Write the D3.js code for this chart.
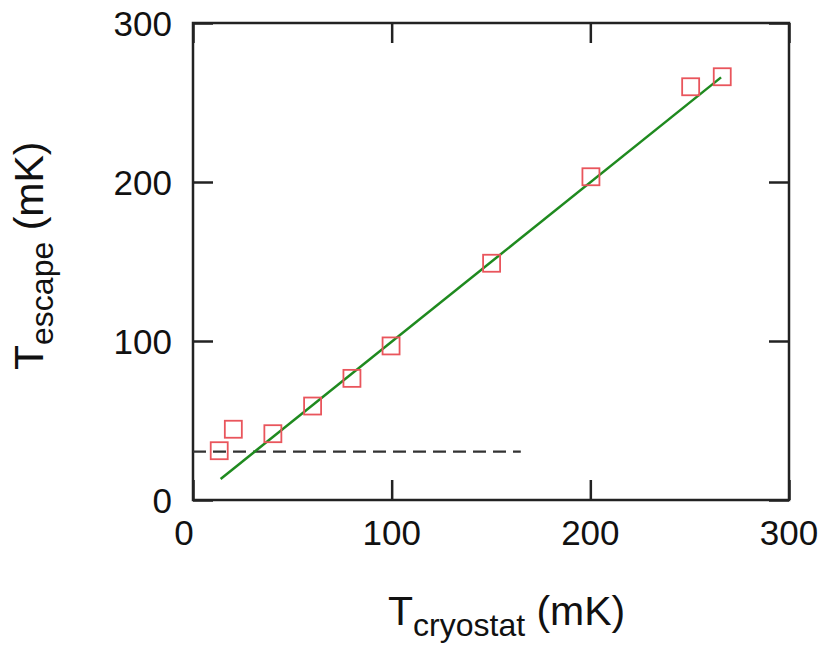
<!DOCTYPE html>
<html>
<head>
<meta charset="utf-8">
<script src="https://cdn.jsdelivr.net/npm/d3@7"></script>
<style>
  body { margin: 0; background: #fff; }
  svg { display: block; font-family: "Liberation Sans", Arial, sans-serif; }
</style>
</head>
<body>
<div id="viz"></div>
<script>
// measured points
const cryostat = [13.2, 20.3, 40.2, 60.2, 80.0, 99.7, 150.3, 200.3, 250.5, 266.4]
const escape = [31.0, 44.5, 41.7, 59.1, 76.5, 96.9, 148.9, 203.3, 259.9, 266.2]

// linear fit, drawn between its two ends
const fitX = [13.9, 265.8]
const fitY = [13.2, 265.8]

// dashed floor line
const floorX = [0, 165]
const floorY = [30.4, 30.4]

const xTicks = [0, 100, 200, 300]
const yTicks = [0, 100, 200, 300]

const W = 823, H = 648
const mLeft = 193, mRight = 789, mTop = 23, mBottom = 500
const tickLen = 20

const svg = d3.select("#viz").append("svg").attr("width", W).attr("height", H)

const x = d3.scaleLinear().domain([0, 300]).range([mLeft, mRight])
const y = d3.scaleLinear().domain([0, 300]).range([mBottom, mTop])

// ticks, pointing inward on all four sides
const tickStroke = "#222"
svg.append("g")
  .attr("transform", `translate(0,${mBottom})`)
  .call(d3.axisBottom(x).tickValues(xTicks).tickSize(-tickLen).tickFormat(""))
svg.append("g")
  .attr("transform", `translate(0,${mTop})`)
  .call(d3.axisTop(x).tickValues(xTicks).tickSize(-tickLen).tickFormat(""))
svg.append("g")
  .attr("transform", `translate(${mLeft},0)`)
  .call(d3.axisLeft(y).tickValues(yTicks).tickSize(-tickLen).tickFormat(""))
svg.append("g")
  .attr("transform", `translate(${mRight},0)`)
  .call(d3.axisRight(y).tickValues(yTicks).tickSize(-tickLen).tickFormat(""))
svg.selectAll(".domain").remove()
svg.selectAll(".tick line").attr("stroke", tickStroke).attr("stroke-width", 2.5)

// frame
svg.append("rect")
  .attr("x", mLeft).attr("y", mTop)
  .attr("width", mRight - mLeft).attr("height", mBottom - mTop)
  .attr("fill", "none")
  .attr("stroke", tickStroke)
  .attr("stroke-width", 2.5)

// tick labels
svg.selectAll(".xlab")
  .data(xTicks)
  .enter()
  .append("text")
  .attr("class", "xlab")
  .attr("x", d => x(d) - (d == 0 ? 9 : 0))
  .attr("y", mBottom + 45)
  .attr("text-anchor", "middle")
  .attr("font-size", 35)
  .attr("fill", "#111")
  .text(d => d)

svg.selectAll(".ylab")
  .data(yTicks)
  .enter()
  .append("text")
  .attr("class", "ylab")
  .attr("x", mLeft - 21)
  .attr("y", d => y(d))
  .attr("dy", "0.36em")
  .attr("text-anchor", "end")
  .attr("font-size", 35)
  .attr("fill", "#111")
  .text(d => d)

// dashed line
const line = d3.line().x(d => x(d[0])).y(d => y(d[1]))
svg.append("path")
  .attr("d", line(d3.zip(floorX, floorY)))
  .attr("fill", "none")
  .attr("stroke", "#333")
  .attr("stroke-width", 2.3)
  .attr("stroke-dasharray", "13,7")

// fit line
svg.append("path")
  .attr("d", line(d3.zip(fitX, fitY)))
  .attr("fill", "none")
  .attr("stroke", "#1f8a1f")
  .attr("stroke-width", 2.5)

// square markers
const s = 17
svg.selectAll(".pt")
  .data(d3.zip(cryostat, escape))
  .enter()
  .append("rect")
  .attr("class", "pt")
  .attr("x", d => x(d[0]) - s / 2)
  .attr("y", d => y(d[1]) - s / 2)
  .attr("width", s)
  .attr("height", s)
  .attr("fill", "none")
  .attr("stroke", "#e9555c")
  .attr("stroke-width", 1.8)

// axis titles
const xt = svg.append("text")
  .attr("x", 388)
  .attr("y", 625)
  .attr("font-size", 41)
  .attr("fill", "#111")
xt.append("tspan").text("T")
xt.append("tspan").attr("font-size", 32).attr("dy", 11).text("cryostat")
xt.append("tspan").attr("dy", -11).text(" (mK)")

const yt = svg.append("text")
  .attr("transform", "translate(43,370) rotate(-90)")
  .attr("font-size", 41)
  .attr("fill", "#111")
yt.append("tspan").text("T")
yt.append("tspan").attr("font-size", 32).attr("dy", 10).text("escape")
yt.append("tspan").attr("dy", -10).text(" (mK)")
</script>
</body>
</html>
